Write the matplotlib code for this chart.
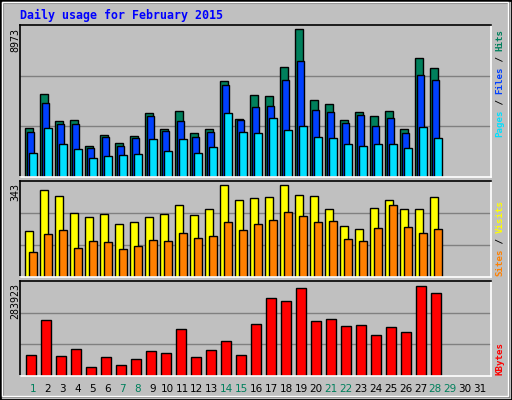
"""Webalizer-style daily usage chart for February 2015."""

import matplotlib

matplotlib.use("Agg")

import matplotlib.pyplot as plt
from matplotlib.patches import Rectangle

days = list(range(1, 29))
weekend_days = [1, 7, 8, 14, 15, 21, 22, 28, 29]

hits = [3004, 5014, 3431, 3492, 1908, 2578, 2091, 2517, 3918, 2944, 4040, 2700, 2944, 5806,
        3553, 4953, 4892, 6658, 8973, 4649, 4466, 3492, 3979, 3735, 4040, 2944, 7207, 6598]
files = [2761, 4527, 3248, 3248, 1786, 2456, 1908, 2395, 3735, 2822, 3431, 2456, 2761, 5562,
         3492, 4283, 4344, 5867, 7024, 4101, 3979, 3309, 3796, 3126, 3613, 2700, 6171, 5867]
pages = [1482, 3004, 2030, 1726, 1177, 1299, 1360, 1421, 2335, 1604, 2335, 1482, 1847, 3918,
         2761, 2700, 3613, 2883, 3126, 2456, 2395, 2030, 1908, 2030, 2030, 1786, 3065, 2395]
visits = [172, 324, 302, 239, 224, 235, 198, 206, 224, 235, 269, 232, 254, 343,
          287, 295, 298, 343, 306, 302, 254, 191, 180, 258, 287, 254, 254, 298]
sites = [94, 161, 176, 109, 135, 131, 105, 116, 139, 135, 165, 146, 154, 206,
         176, 198, 213, 243, 228, 206, 209, 142, 135, 183, 269, 187, 165, 180]
kbytes = [66317, 178226, 63208, 84968, 29014, 60100, 35231, 53882, 78751, 72534, 150249,
          60100, 81860, 109837, 66317, 165792, 246616, 237290, 277702, 175118, 181335,
          159575, 162683, 128489, 156466, 137815, 283923, 262163]

W, H = 512, 400
BG = "#c0c0c0"
MONO = "DejaVu Sans Mono"

fig = plt.figure(figsize=(W / 100, H / 100), dpi=100, facecolor=BG)

# outer frame with bevel
fig.patches.append(Rectangle((0, 0), 1, 1, transform=fig.transFigure, fill=False,
                             ec="black", lw=2))
fig.patches.append(Rectangle((3 / W, 3 / H), 1 - 6 / W, 1 - 6 / H, transform=fig.transFigure,
                             fill=False, ec="#808080", lw=1.5))
fig.patches.append(Rectangle((2 / W, 4 / H), 1 - 6 / W, 1 - 6 / H, transform=fig.transFigure,
                             fill=False, ec="white", lw=1))


def panel(y_top, y_bot, ymax):
    ax = fig.add_axes([20 / W, 1 - y_bot / H, 471 / W, (y_bot - y_top) / H], facecolor=BG)
    ax.set_xlim(0, 31.4)
    ax.set_ylim(0, ymax)
    ax.set_xticks([])
    ax.set_yticks([])
    for s in ("top", "left"):
        ax.spines[s].set_color("black")
    for s in ("bottom", "right"):
        ax.spines[s].set_color("white")
    for s in ax.spines.values():
        s.set_linewidth(1.2)
    for f in (1 / 3, 2 / 3):
        ax.axhline(f * ymax, color="#808080", lw=1, zorder=0)
    return ax


def bars(ax, vals, off, width, color):
    x = [d - 1 + off for d in days]
    ax.bar(x, vals, width=width, align="edge", color=color, edgecolor="black", lw=1, zorder=2)


def side_label(pieces, x_px, y_bottom_px, char_px=5.35, size=6.6):
    pos = 0
    for txt, col in pieces:
        fig.text(x_px / W, 1 - (y_bottom_px - pos * char_px) / H, txt, color=col,
                 rotation=90, rotation_mode="anchor", ha="left", va="center",
                 family=MONO, fontsize=size, fontweight="bold")
        pos += len(txt)


# top: hits / files / pages
ax1 = panel(25, 177, 9237)
bars(ax1, hits, 0.33, 0.53, "#00805c")
bars(ax1, files, 0.46, 0.5, "#0040ff")
bars(ax1, pages, 0.6, 0.5, "#00e0ff")

# middle: visits / sites
ax2 = panel(181, 277, 359)
bars(ax2, visits, 0.33, 0.53, "#ffff00")
bars(ax2, sites, 0.6, 0.53, "#ff8000")

# bottom: kbytes
ax3 = panel(281, 376, 300500)
bars(ax3, kbytes, 0.42, 0.66, "#ff0000")

# title
fig.text(20 / W, 1 - 15 / H, "Daily usage for February 2015", color="#0000ff",
         family=MONO, fontsize=8.4, fontweight="bold", va="center", ha="left")

# max value labels on the left
for txt, y in (("8973", 28), ("343", 183), ("283923", 283)):
    fig.text(15 / W, 1 - y / H, txt, rotation=90, ha="center", va="top",
             family=MONO, fontsize=7.2, color="black")

# right legends
side_label([("Pages", "#00e0ff"), (" / ", "black"), ("Files", "#0040ff"),
            (" / ", "black"), ("Hits", "#00805c")], 500, 137)
side_label([("Sites", "#ff8000"), (" / ", "black"), ("Visits", "#ffff00")], 500, 276)
side_label([("KBytes", "#ff0000")], 500, 375)

# day labels
for d in range(1, 32):
    col = "#00805c" if d in weekend_days else "black"
    fig.text((33 + 14.9 * (d - 1)) / W, 1 - 389 / H, str(d), color=col,
             ha="center", va="center", family="DejaVu Sans", fontsize=7.5)

fig.savefig("out.png", dpi=100, facecolor=BG)
